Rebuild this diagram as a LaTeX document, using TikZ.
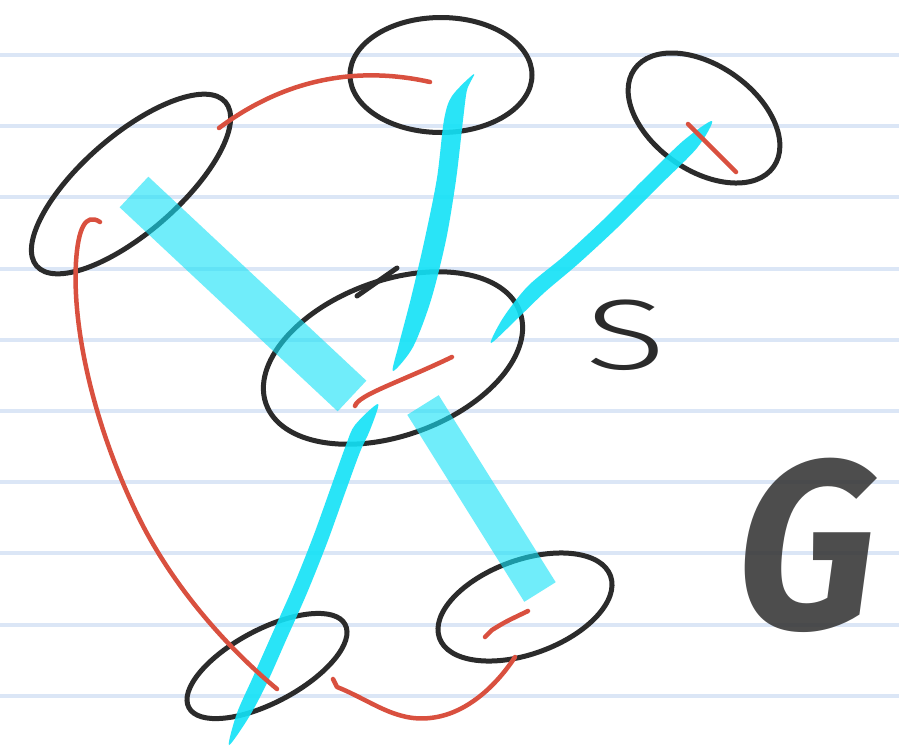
\documentclass[tikz,border=0pt]{standalone}
\usepackage{fontspec}
\usepackage{tikz}
\usetikzlibrary{shapes.geometric}
\usetikzlibrary{calc}
\newfontfamily\handfont{Fira Sans Light}
\newfontfamily\brushfont{Fira Sans}
\definecolor{ink}{HTML}{2B2B2B}
\definecolor{rule}{HTML}{DBE6F6}
\definecolor{tree}{HTML}{D9503F}
\definecolor{hl}{HTML}{12E2F7}
\definecolor{brush}{HTML}{3A3A3A}

\begin{document}
\begin{tikzpicture}[x=1pt, y=-1pt]
        \useasboundingbox (0,0) rectangle (899,748);
        \fill[white] (0,0) rectangle (899,748);

        % ruled paper
        \foreach \k in {0,...,9}
          \draw[rule, line width=4pt] (0,{55+71.2*\k}) -- (899,{55+71.2*\k});

        % vertices
        \begin{scope}[every node/.style={
            ellipse, draw=ink, line width=5pt, inner sep=0pt,
          }]
          \node[minimum width=250pt, minimum height=97pt, rotate=41] (A) at (131,184) {};
          \node[minimum width=182pt, minimum height=115pt] (B) at (441,75) {};
          \node[minimum width=170pt, minimum height=105pt, rotate=-35] (C) at (704,118) {};
          \node[minimum width=270pt, minimum height=155pt, rotate=20] (S) at (393,358) {};
          \node[minimum width=182pt, minimum height=94pt, rotate=20] (D) at (525,607) {};
          \node[minimum width=177pt, minimum height=73pt, rotate=28] (E) at (267,666) {};
        \end{scope}
        \draw[ink, line width=5pt, line cap=round] (357,296) -- (397,268);

        % highlighted edges
        \coordinate (hA) at (134,192);
        \coordinate (hS1) at (352,396);
        \coordinate (hS2) at (423,405);
        \coordinate (hD) at (540,592);
        \begin{scope}[hl, opacity=0.6, line cap=butt]
          \draw[line width=42pt] (hA) -- (hS1);
          \draw[line width=37pt] (hS2) -- (hD);
        \end{scope}

        \begin{scope}[hl, opacity=0.9]
          \fill plot[smooth cycle, tension=0.5] coordinates {
            (474,74) (467,90) (463,120) (456,180) (446,240) (431,300) (413,347)
            (393,371) (399,344) (411,298) (425,238) (437,178) (444,120) (452,96)};
          \fill plot[smooth cycle, tension=0.5] coordinates {
            (712,121) (697,148) (657,188) (617,228) (578,264) (545,292) (518,318)
            (491,343) (503,318) (528,286) (564,256) (603,220) (643,180) (683,141)};
          \fill plot[smooth cycle, tension=0.5] coordinates {
            (378,404) (370,430) (360,452) (345,493) (327,543) (307,593) (287,638)
            (267,683) (249,717) (229,745) (237,713) (253,677) (273,632) (293,587)
            (313,537) (331,487) (346,445) (355,425)};
        \end{scope}

        % tree edges
        \coordinate (rA) at (219,128);
        \coordinate (rB) at (430,82);
        \coordinate (rC1) at (688,124);
        \coordinate (rC2) at (736,172);
        \coordinate (rS1) at (355,406);
        \coordinate (rS2) at (452,357);
        \coordinate (rD1) at (485,637);
        \coordinate (rD2) at (528,611);
        \coordinate (rA2) at (100,222);
        \coordinate (rE) at (277,689);
        \coordinate (rE2) at (333,679);
        \coordinate (rD3) at (515,657);
        \begin{scope}[tree, line width=4.5pt, line cap=round, line join=round]
          \draw (rA) .. controls (270,90) and (340,62) .. (rB);
          \draw (rC1) -- (rC2);
          \draw (rS1) .. controls (358,395) and (400,382) .. (rS2);
          \draw (rD1) -- (492,630) .. controls (505,622) .. (rD2);
          \draw (rA2) .. controls (85,212) and (78,230) .. (76,262)
            .. controls (72,330) and (95,430) .. (140,520)
            .. controls (175,590) and (230,650) .. (rE);
          \draw (rE2) -- (337,687) .. controls (370,700) and (395,722) .. (430,718)
            .. controls (470,714) and (500,680) .. (rD3);
        \end{scope}

        % labels
        \node[text=ink, inner sep=0pt, xscale=1.5,
          font=\handfont\fontsize{100pt}{100pt}\selectfont] (lblS) at (626,335) {S};
        \node[text=brush, opacity=0.9, inner sep=0pt, xscale=0.9, xslant=0.15,
          font=\brushfont\bfseries\fontsize{240pt}{240pt}\selectfont] (lblG) at (809,545) {G};

      \end{tikzpicture}
\end{document}
